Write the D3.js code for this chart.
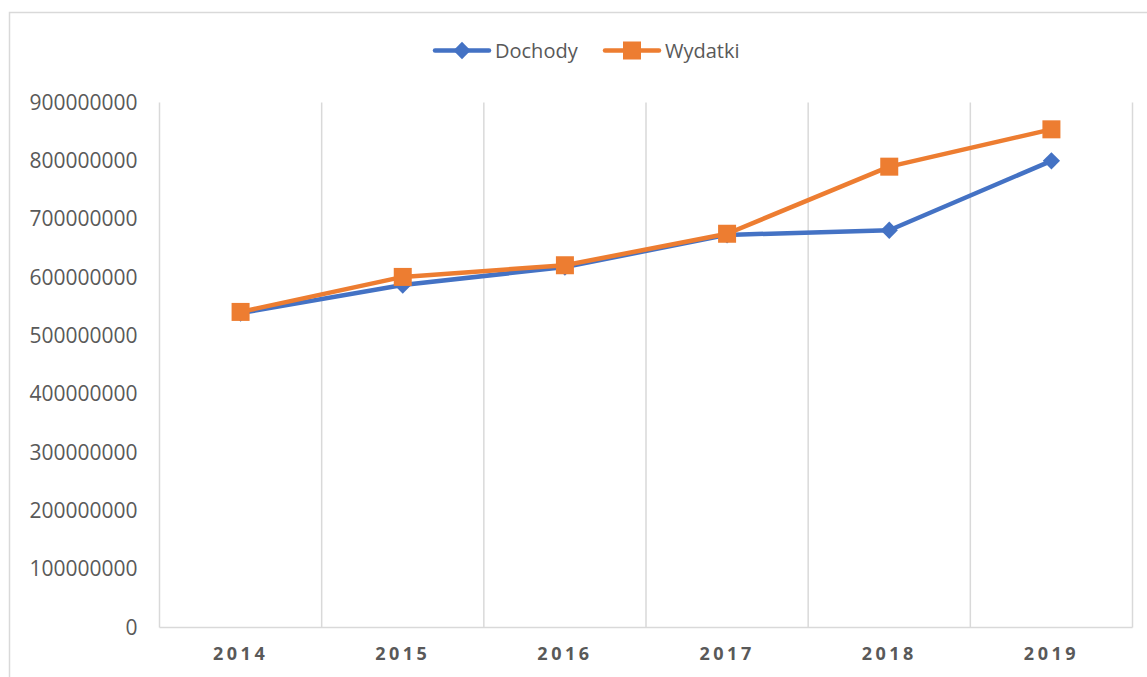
<!DOCTYPE html>
<html>
<head>
<meta charset="utf-8">
<script src="https://cdn.jsdelivr.net/npm/d3@7"></script>
<style>
  body { margin: 0; background: #fff; }
  svg text { font-family: "Open Sans", sans-serif; fill: #595959; }
</style>
</head>
<body>
<div id="chart"></div>
<script>
// data
var years = ["2014", "2015", "2016", "2017", "2018", "2019"];
var dochody = [539000000, 587000000, 618000000, 673000000, 681000000, 800000000];
var wydatki = [541000000, 601000000, 621000000, 675000000, 790000000, 854000000];
var yTicks = [0, 100000000, 200000000, 300000000, 400000000, 500000000,
              600000000, 700000000, 800000000, 900000000];

var W = 1147, H = 677;
var margin = {top: 102.5, right: 14.5, bottom: 49.5, left: 159.5},
    width = W - margin.left - margin.right,
    height = H - margin.top - margin.bottom;

var svg = d3.select("#chart").append("svg")
    .attr("width", W)
    .attr("height", H);

// outer chart border (cut off at right and bottom)
svg.append("rect")
    .attr("x", 9.5).attr("y", 12.5)
    .attr("width", W + 10).attr("height", H + 10)
    .attr("fill", "none")
    .attr("stroke", "#d9d9d9")
    .attr("stroke-width", 1.5);

var g = svg.append("g")
    .attr("transform", "translate(" + margin.left + "," + margin.top + ")");

var x = d3.scaleBand().domain(years).range([0, width]);
var y = d3.scaleLinear().domain([0, 900000000]).range([height, 0]);

// vertical gridlines at category boundaries
var bounds = years.map(function(d) { return x(d); }).concat([width]);
g.selectAll(".vgrid")
    .data(bounds)
    .enter().append("line")
    .attr("x1", function(d) { return d; })
    .attr("x2", function(d) { return d; })
    .attr("y1", 0)
    .attr("y2", height)
    .attr("stroke", "#d9d9d9")
    .attr("stroke-width", 1.5);

// bottom axis line
g.append("line")
    .attr("x1", 0).attr("x2", width)
    .attr("y1", height).attr("y2", height)
    .attr("stroke", "#d9d9d9")
    .attr("stroke-width", 1.5);

// Y axis labels
var yAxis = g.append("g")
    .call(d3.axisLeft(y).tickValues(yTicks).tickFormat(d3.format("d")).tickSize(0).tickPadding(22));
yAxis.select(".domain").remove();
yAxis.selectAll("text")
    .style("font-size", "21px")
    .style("font-family", "Open Sans, sans-serif")
    .attr("fill", "#595959");

// X axis labels
var xAxis = g.append("g")
    .attr("transform", "translate(0," + height + ")")
    .call(d3.axisBottom(x).tickSize(0).tickPadding(20));
xAxis.select(".domain").remove();
xAxis.selectAll("text")
    .style("font-size", "18px")
    .style("font-weight", "bold")
    .style("letter-spacing", "3.5px")
    .style("font-family", "Open Sans, sans-serif")
    .attr("fill", "#595959");

var line = d3.line()
    .x(function(d, i) { return x(years[i]) + x.bandwidth() / 2; })
    .y(function(d) { return y(d); });

var blue = "#4472C4", orange = "#ED7D31";

// Dochody
g.append("path")
    .datum(dochody)
    .attr("fill", "none")
    .attr("stroke", blue)
    .attr("stroke-width", 4.5)
    .attr("stroke-linejoin", "round")
    .attr("d", line);
g.selectAll(".diamond")
    .data(dochody)
    .enter().append("path")
    .attr("d", d3.symbol().type(d3.symbolDiamond2).size(190))
    .attr("transform", function(d, i) {
        return "translate(" + (x(years[i]) + x.bandwidth() / 2) + "," + y(d) + ")";
    })
    .attr("fill", blue);

// Wydatki
g.append("path")
    .datum(wydatki)
    .attr("fill", "none")
    .attr("stroke", orange)
    .attr("stroke-width", 4.5)
    .attr("stroke-linejoin", "round")
    .attr("d", line);
g.selectAll(".square")
    .data(wydatki)
    .enter().append("rect")
    .attr("x", function(d, i) { return x(years[i]) + x.bandwidth() / 2 - 9; })
    .attr("y", function(d) { return y(d) - 9; })
    .attr("width", 18).attr("height", 18)
    .attr("fill", orange);

// legend
var legend = svg.append("g");
var items = [
    {name: "Dochody", color: blue, x0: 435, type: "diamond"},
    {name: "Wydatki", color: orange, x0: 605, type: "square"}
];
var ly = 50.5;
items.forEach(function(it) {
    legend.append("line")
        .attr("x1", it.x0).attr("x2", it.x0 + 54)
        .attr("y1", ly).attr("y2", ly)
        .attr("stroke", it.color)
        .attr("stroke-width", 4.5)
        .attr("stroke-linecap", "round");
    if (it.type === "diamond") {
        legend.append("path")
            .attr("d", d3.symbol().type(d3.symbolDiamond2).size(190))
            .attr("transform", "translate(" + (it.x0 + 27) + "," + ly + ")")
            .attr("fill", it.color);
    } else {
        legend.append("rect")
            .attr("x", it.x0 + 27 - 9).attr("y", ly - 9)
            .attr("width", 18).attr("height", 18)
            .attr("fill", it.color);
    }
    legend.append("text")
        .attr("x", it.x0 + 60)
        .attr("y", ly)
        .attr("dy", "0.35em")
        .style("font-size", "20px")
        .text(it.name);
});
</script>
</body>
</html>
